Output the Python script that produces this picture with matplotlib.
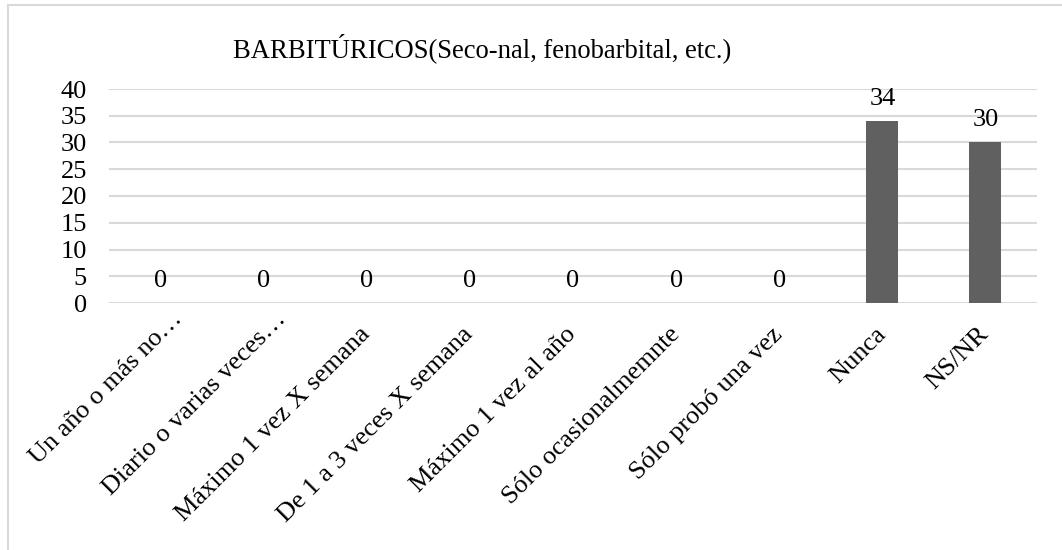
import matplotlib
matplotlib.use("Agg")
import matplotlib.pyplot as plt
import matplotlib.transforms as mtransforms
from matplotlib.patches import Rectangle

categorias = ["Un año o más no…", "Diario o varias veces…", "Máximo 1 vez X semana",
              "De 1 a 3 veces X semana", "Máximo 1 vez al año", "Sólo ocasionalmemnte",
              "Sólo probó una vez", "Nunca", "NS/NR"]
valores = [0, 0, 0, 0, 0, 0, 0, 34, 30]
titulo = "BARBITÚRICOS(Seco-nal, fenobarbital, etc.)"

plt.rcParams['font.family'] = ['Liberation Serif', 'DejaVu Serif']

fig = plt.figure(figsize=(10.62, 5.5), dpi=100)
ax = fig.add_axes([109/1062, 1-303/550, (1037-109)/1062, (303-89)/550])

x = list(range(len(categorias)))
barras = ax.bar(x, valores, width=0.31, color='#606060', zorder=3)
for xi, v in zip(x, valores):
    ax.annotate(str(v), (xi, v), xytext=(0, 8), textcoords='offset points',
                ha='center', va='bottom', fontsize=19)

ax.set_xlim(-0.5, len(categorias)-0.5)
ax.set_ylim(0, 40)
ax.set_yticks(range(0, 41, 5))
ax.yaxis.grid(True, color='#d9d9d9', linewidth=1.5, zorder=0)
ax.set_xticks(x)
ax.set_xticklabels(categorias, rotation=45, ha='right', va='center',
                   rotation_mode='anchor', fontsize=19.2)
ax.tick_params(axis='both', length=0, labelsize=19)
ax.tick_params(axis='y', pad=16)
ax.tick_params(axis='x', pad=20)
for s in ax.spines.values():
    s.set_visible(False)

# las etiquetas cortadas con "…" quedan algo más arriba en el original
desplaza = mtransforms.ScaledTranslation(13.5/72, 11/72, fig.dpi_scale_trans)
for lab in ax.get_xticklabels():
    if lab.get_text().endswith("…"):
        lab.set_transform(lab.get_transform() + desplaza)

fig.text(233/1062, 1-48/550, titulo, ha='left', va='center', fontsize=19.2)

fig.patches.append(Rectangle((8/1062, -0.1), 1.2, 1-5/550+0.1, transform=fig.transFigure,
                             fill=False, edgecolor='#d9d9d9', linewidth=1.5))

fig.savefig("out.png", dpi=100)
